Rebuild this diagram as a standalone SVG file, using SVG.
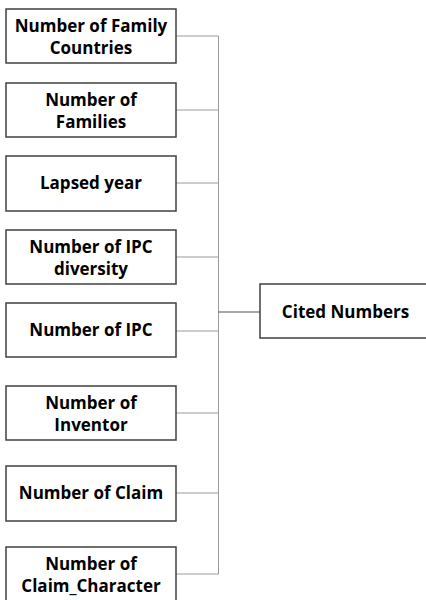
<svg xmlns="http://www.w3.org/2000/svg" width="426" height="600" viewBox="0 0 426 600">
<style>
.box{fill:#fff;stroke:#404040;stroke-width:1.5}
.t{font-family:"Open Sans","Liberation Sans",sans-serif;font-weight:bold;font-size:17px;fill:#000;text-anchor:middle}
.c{fill:none;stroke:#9a9a9a;stroke-width:1}
.cd{fill:none;stroke:#505050;stroke-width:1.2}
</style>
<rect width="426" height="600" fill="#fff"/>
<g id="connectors">
<path class="c" d="M218.5 36V574"/>
<path class="c" d="M176 36H218.5M176 110H218.5M176 183H218.5M176 257H218.5M176 331H218.5M176 413H218.5M176 493H218.5M176 574H218.5"/>
<path class="cd" d="M218.5 312H260"/>
</g>
<g id="n1"><rect class="box" x="6" y="9" width="170" height="54"/><text class="t" x="91" y="32">Number of Family</text><text class="t" x="91" y="54">Countries</text></g>
<g id="n2"><rect class="box" x="6" y="83" width="170" height="54"/><text class="t" x="91" y="106">Number of</text><text class="t" x="91" y="128">Families</text></g>
<g id="n3"><rect class="box" x="6" y="156" width="170" height="55"/><text class="t" x="91" y="189">Lapsed year</text></g>
<g id="n4"><rect class="box" x="6" y="230" width="170" height="54"/><text class="t" x="91" y="253">Number of IPC</text><text class="t" x="91" y="275">diversity</text></g>
<g id="n5"><rect class="box" x="6" y="303" width="170" height="54"/><text class="t" x="91" y="336">Number of IPC</text></g>
<g id="n6"><rect class="box" x="6" y="386" width="170" height="54"/><text class="t" x="91" y="409">Number of</text><text class="t" x="91" y="431">Inventor</text></g>
<g id="n7"><rect class="box" x="6" y="466" width="170" height="55"/><text class="t" x="91" y="499">Number of Claim</text></g>
<g id="n8"><rect class="box" x="6" y="547" width="170" height="56"/><text class="t" x="91" y="570">Number of</text><text class="t" x="91" y="592">Claim_Character</text></g>
<g id="n9"><rect class="box" x="260" y="284" width="170" height="54"/><text class="t" x="345.5" y="318">Cited Numbers</text></g>
</svg>
